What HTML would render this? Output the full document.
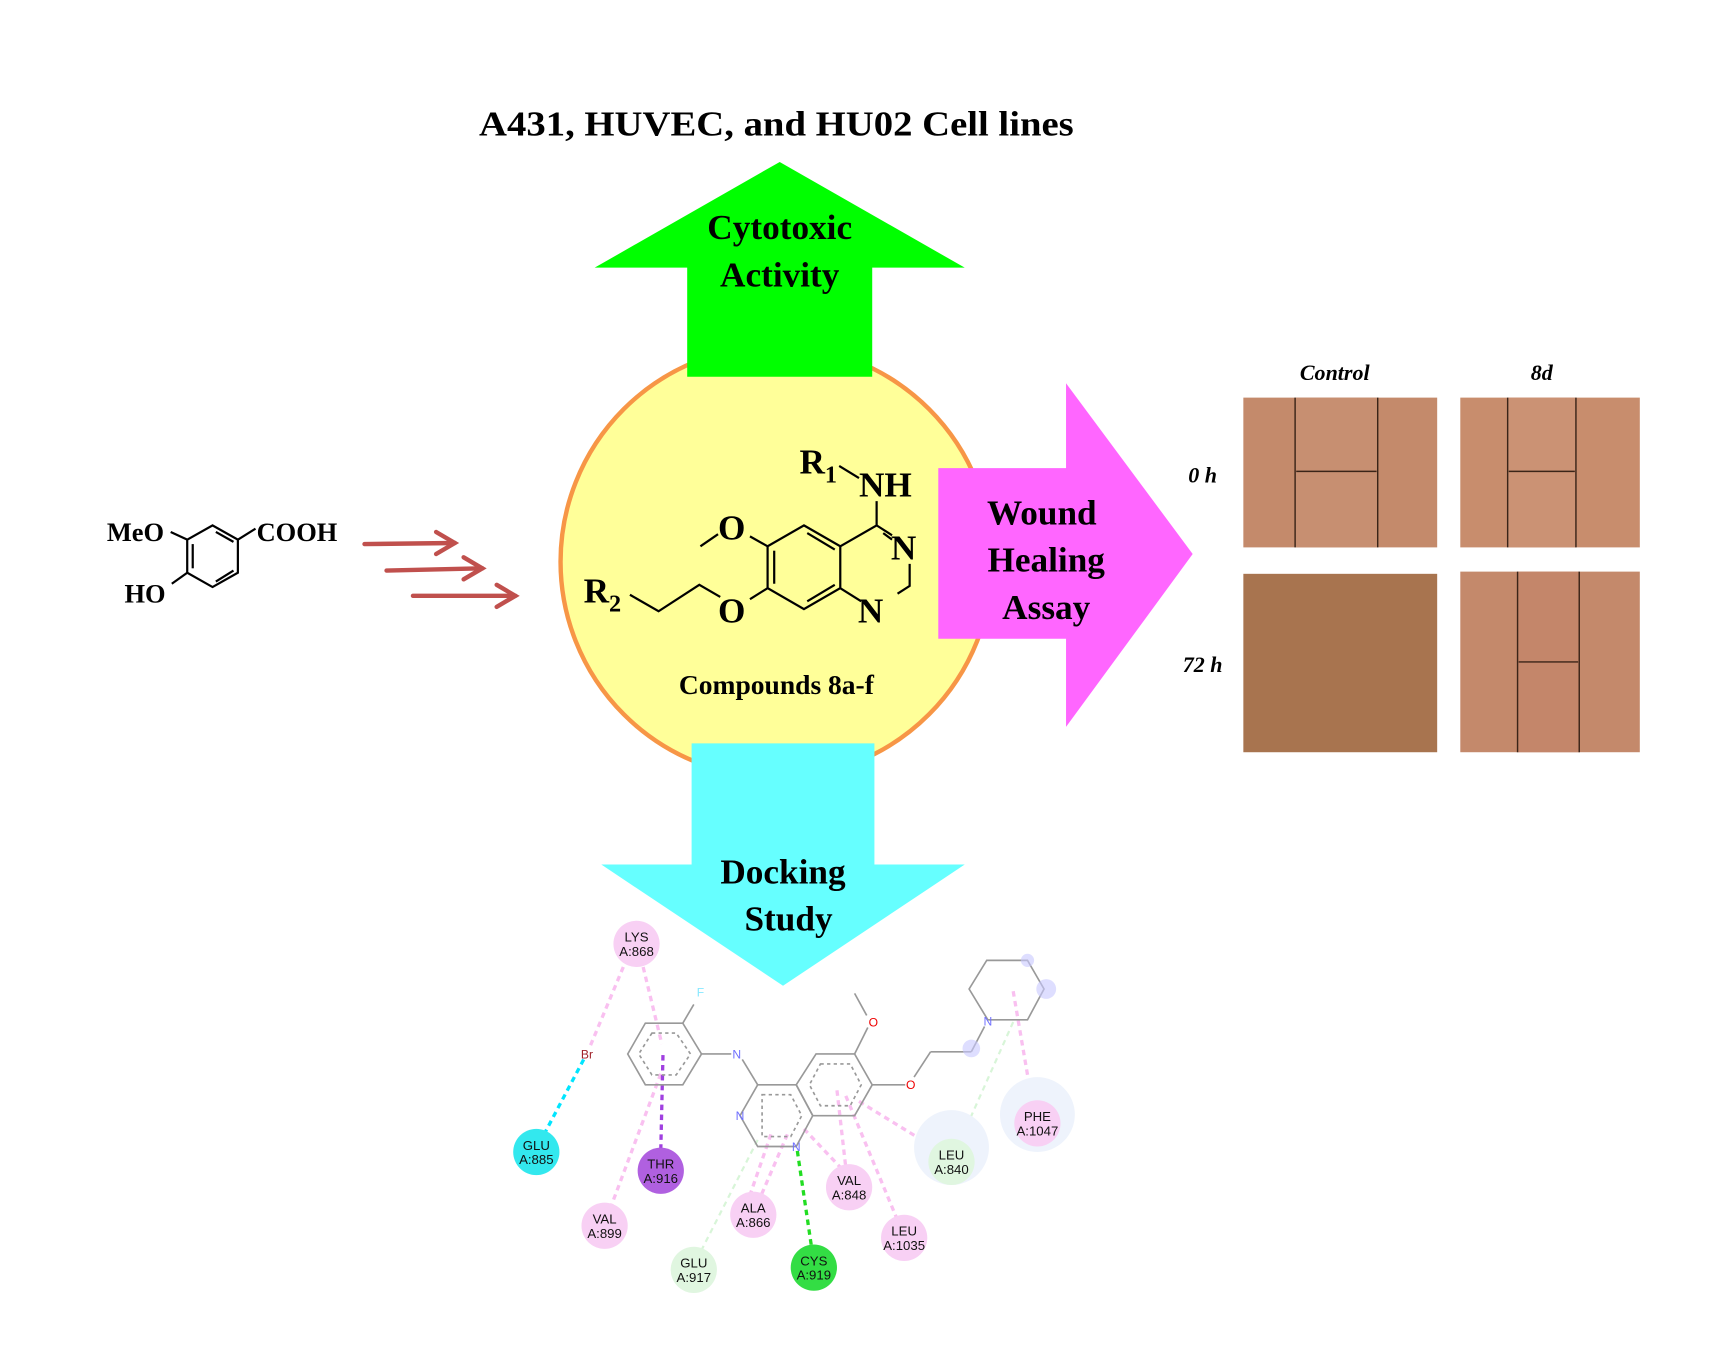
<!DOCTYPE html>
<html><head><meta charset="utf-8"><style>html,body{margin:0;padding:0;background:#fff}svg{display:block}</style></head>
<body>
<svg width="1718" height="1369" viewBox="0 0 1560 1243" xmlns="http://www.w3.org/2000/svg" font-family="Liberation Serif, serif">
<rect width="1560" height="1243" fill="#fff"/>
<text x="435" y="123" font-size="32" font-weight="bold" textLength="540" lengthAdjust="spacingAndGlyphs">A431, HUVEC, and HU02 Cell lines</text>
<!-- circle -->
<circle cx="705" cy="510" r="196" fill="#ffff99" stroke="#f79646" stroke-width="4"/>
<!-- green arrow -->
<polygon points="708,147 876,243 792,243 792,342 624,342 624,243 540,243" fill="#00ff00"/>
<text x="708" y="217" font-size="32" font-weight="bold" text-anchor="middle">Cytotoxic</text>
<text x="708" y="260" font-size="32" font-weight="bold" text-anchor="middle">Activity</text>
<!-- magenta arrow -->
<polygon points="852,425 968,425 968,348 1083,503 968,660 968,580 852,580" fill="#ff66ff"/>
<text x="946" y="476" font-size="32" font-weight="bold" text-anchor="middle">Wound</text>
<text x="950" y="519" font-size="32" font-weight="bold" text-anchor="middle">Healing</text>
<text x="950" y="562" font-size="32" font-weight="bold" text-anchor="middle">Assay</text>
<!-- cyan arrow -->
<polygon points="628,675 794,675 794,785 876,785 711,895 546,785 628,785" fill="#66ffff"/>
<text x="711" y="802" font-size="32" font-weight="bold" text-anchor="middle">Docking</text>
<text x="716" y="845" font-size="32" font-weight="bold" text-anchor="middle">Study</text>
<!-- left molecule -->
<g stroke="#000" stroke-width="2" fill="none">
<polygon points="170,490 193,477 216,490 216,520 193,533 170,520"/>
<line x1="175" y1="494" x2="175" y2="516"/><line x1="196" y1="483" x2="212" y2="492"/><line x1="196" y1="528" x2="212" y2="518"/>
<line x1="155" y1="483" x2="170" y2="490"/><line x1="216" y1="490" x2="232" y2="480"/><line x1="170" y1="520" x2="156" y2="530"/>
</g>
<g font-size="24" font-weight="bold">
<text x="97" y="491">MeO</text><text x="233" y="491">COOH</text><text x="113" y="547">HO</text>
</g>
<!-- red arrows -->
<g stroke="#c0504d" stroke-width="4" fill="none" stroke-linecap="round">
<line x1="331" y1="494" x2="413" y2="493"/><polyline points="396,483 413,493 396,503"/>
<line x1="351" y1="518" x2="438" y2="516"/><polyline points="421,506 438,516 421,526"/>
<line x1="375" y1="541" x2="468" y2="541"/><polyline points="451,531 468,541 451,551"/>
</g>
<!-- quinazoline -->
<g stroke="#000" stroke-width="2" fill="none">
<polygon points="730,477 763,496 763,534 730,553 697,534 697,496"/>
<line x1="703" y1="500" x2="703" y2="530"/><line x1="733" y1="484" x2="758" y2="499"/><line x1="733" y1="546" x2="758" y2="531"/>
<polyline points="763,496 796,477 810,486"/>
<line x1="802" y1="484" x2="810" y2="490"/>
<polyline points="826,512 826,532 815,539"/>
<line x1="763" y1="534" x2="782" y2="546"/>
<line x1="796" y1="477" x2="796" y2="455"/>
<line x1="762" y1="423" x2="780" y2="434"/>
<line x1="697" y1="496" x2="681" y2="487"/><line x1="652" y1="485" x2="636" y2="496"/>
<line x1="697" y1="534" x2="681" y2="544"/><polyline points="654,542 635,531 598,555 572,540"/>
</g>
<g font-size="32" font-weight="bold">
<text x="726" y="430">R</text><text x="749" y="438" font-size="22">1</text>
<text x="780" y="451">NH</text>
<text x="809" y="508">N</text><text x="779" y="565">N</text>
<text x="652" y="490">O</text><text x="652" y="565">O</text>
<text x="530" y="547">R</text><text x="553" y="555" font-size="22">2</text>
</g>
<text x="705" y="630" font-size="25" font-weight="bold" text-anchor="middle">Compounds 8a-f</text>
<!-- photos -->
<g font-family="Liberation Serif, serif" font-style="italic" font-weight="bold" font-size="20">
<text x="1212" y="345" text-anchor="middle">Control</text>
<text x="1400" y="345" text-anchor="middle">8d</text>
<text x="1092" y="438" text-anchor="middle">0 h</text>
<text x="1092" y="610" text-anchor="middle">72 h</text>
</g>
<rect x="1129" y="361" width="176" height="136" fill="#c48a6b"/>
<rect x="1326" y="361" width="163" height="136" fill="#c88d6d"/>
<rect x="1129" y="521" width="176" height="162" fill="#a8744f"/>
<rect x="1326" y="519" width="163" height="164" fill="#c4896b"/>
<rect x="1176" y="361" width="75" height="136" fill="#c78f71"/>
<rect x="1369" y="361" width="62" height="136" fill="#cb9274"/>
<rect x="1378" y="519" width="56" height="164" fill="#c4866a"/>
<g stroke="#3a2418" stroke-width="1.3">
<line x1="1176" y1="361" x2="1176" y2="497"/><line x1="1251" y1="361" x2="1251" y2="497"/><line x1="1177" y1="428" x2="1250" y2="428"/>
<line x1="1369" y1="361" x2="1369" y2="497"/><line x1="1431" y1="361" x2="1431" y2="497"/><line x1="1370" y1="428" x2="1430" y2="428"/>
<line x1="1378" y1="519" x2="1378" y2="683"/><line x1="1434" y1="519" x2="1434" y2="683"/><line x1="1379" y1="601" x2="1433" y2="601"/>
</g>
<!-- docking -->
<g fill="none" stroke-width="3" stroke-dasharray="5,4">
<line x1="566" y1="878" x2="535" y2="952" stroke="#f9c0f0"/>
<line x1="584" y1="878" x2="601" y2="948" stroke="#f9c0f0"/>
<line x1="600" y1="975" x2="555" y2="1095" stroke="#f9c0f0"/>
<line x1="530" y1="962" x2="494" y2="1030" stroke="#00e5ff"/>
<line x1="602" y1="958" x2="600" y2="1045" stroke="#a040e0"/>
<line x1="700" y1="1030" x2="680" y2="1088" stroke="#f9c0f0"/>
<line x1="715" y1="1030" x2="690" y2="1088" stroke="#f9c0f0"/>
<line x1="688" y1="1035" x2="636" y2="1137" stroke="#d8f5d8" stroke-width="2"/>
<line x1="724" y1="1045" x2="737" y2="1133" stroke="#22dd22"/>
<line x1="730" y1="1025" x2="765" y2="1062" stroke="#f9c0f0"/>
<line x1="760" y1="990" x2="768" y2="1060" stroke="#f9c0f0"/>
<line x1="768" y1="995" x2="815" y2="1108" stroke="#f9c0f0"/>
<line x1="780" y1="1000" x2="845" y2="1040" stroke="#f9c0f0"/>
<line x1="920" y1="928" x2="870" y2="1040" stroke="#d8f5d8" stroke-width="2"/>
<line x1="920" y1="900" x2="938" y2="1005" stroke="#f9c0f0"/>
</g>
<g stroke="#999" stroke-width="1.5" fill="none">
<polygon points="586,929 620,929 637,957 620,985 586,985 570,957"/>
<polygon points="592,938 614,938 627,957 614,976 592,976 580,957" stroke-dasharray="3,3"/>
<polygon points="688,985 723,985 738,1013 723,1041 688,1041 672,1013"/>
<polygon points="723,985 741,957 776,957 792,985 776,1013 738,1013"/>
<polygon points="745,966 772,966 782,985 772,1004 745,1004 735,985" stroke-dasharray="3,3"/>
<polygon points="692,994 718,994 728,1013 718,1032 692,1032" stroke-dasharray="3,3"/>
<line x1="637" y1="957" x2="664" y2="957"/><line x1="674" y1="962" x2="688" y2="985"/>
<line x1="620" y1="929" x2="630" y2="912"/>
<line x1="776" y1="957" x2="788" y2="933"/><line x1="787" y1="922" x2="776" y2="902"/>
<line x1="792" y1="985" x2="822" y2="985"/><line x1="830" y1="978" x2="845" y2="955"/><line x1="845" y1="955" x2="882" y2="955"/><line x1="882" y1="955" x2="894" y2="932"/>
<polygon points="896,872 933,872 948,898 933,926 897,926 880,898"/>
</g>
<circle cx="882" cy="952" r="8" fill="#c8c8ff" opacity="0.6"/>
<circle cx="950" cy="898" r="9" fill="#c8c8ff" opacity="0.6"/>
<circle cx="933" cy="872" r="6" fill="#c8c8ff" opacity="0.6"/>
<g font-family="Liberation Sans, sans-serif" font-size="11">
<text x="533" y="961" fill="#a0222a" text-anchor="middle">Br</text>
<text x="636" y="905" fill="#88e8ff" text-anchor="middle">F</text>
<text x="669" y="961" fill="#7070ff" text-anchor="middle">N</text>
<text x="672" y="1017" fill="#7070ff" text-anchor="middle">N</text>
<text x="723" y="1045" fill="#7070ff" text-anchor="middle">N</text>
<text x="897" y="931" fill="#7070ff" text-anchor="middle">N</text>
<text x="793" y="932" fill="#e00" text-anchor="middle">O</text>
<text x="827" y="989" fill="#e00" text-anchor="middle">O</text>
</g>
<circle cx="864" cy="1042" r="34" fill="#eef3fc"/>
<circle cx="942" cy="1012" r="34" fill="#eef3fc"/>
<g font-family="Liberation Sans, sans-serif" font-size="12" text-anchor="middle" fill="#111">
<circle cx="578" cy="857" r="21" fill="#f8d0f4"/><text x="578" y="855">LYS</text><text x="578" y="868">A:868</text>
<circle cx="487" cy="1046" r="21" fill="#33e8ee"/><text x="487" y="1044">GLU</text><text x="487" y="1057">A:885</text>
<circle cx="600" cy="1063" r="21" fill="#b060e0"/><text x="600" y="1061">THR</text><text x="600" y="1074">A:916</text>
<circle cx="549" cy="1113" r="21" fill="#f8d0f4"/><text x="549" y="1111">VAL</text><text x="549" y="1124">A:899</text>
<circle cx="684" cy="1103" r="21" fill="#f8d0f4"/><text x="684" y="1101">ALA</text><text x="684" y="1114">A:866</text>
<circle cx="630" cy="1153" r="21" fill="#e0f6e0"/><text x="630" y="1151">GLU</text><text x="630" y="1164">A:917</text>
<circle cx="739" cy="1151" r="21" fill="#33dd44"/><text x="739" y="1149">CYS</text><text x="739" y="1162">A:919</text>
<circle cx="771" cy="1078" r="21" fill="#f8d0f4"/><text x="771" y="1076">VAL</text><text x="771" y="1089">A:848</text>
<circle cx="821" cy="1124" r="21" fill="#f8d0f4"/><text x="821" y="1122">LEU</text><text x="821" y="1135">A:1035</text>
<circle cx="864" cy="1055" r="21" fill="#e0f6e0"/><text x="864" y="1053">LEU</text><text x="864" y="1066">A:840</text>
<circle cx="942" cy="1020" r="21" fill="#f8d0f4"/><text x="942" y="1018">PHE</text><text x="942" y="1031">A:1047</text>
</g>
</svg>
</body></html>
